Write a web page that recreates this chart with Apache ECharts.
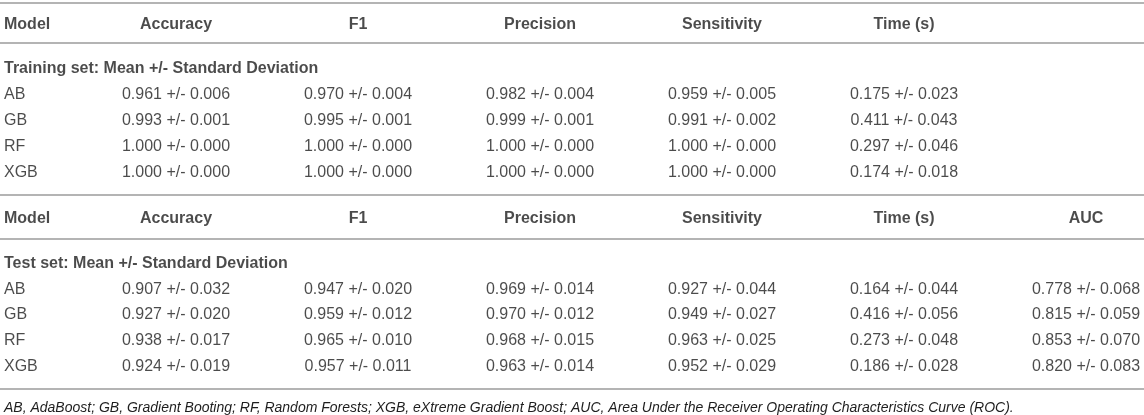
<!DOCTYPE html>
<html><head><meta charset="utf-8">
<script src="https://cdn.jsdelivr.net/npm/echarts@6/dist/echarts.min.js"></script>
<style>html,body{margin:0;padding:0;background:#fff}#c{width:1144px;height:415px}</style>
</head><body><div id="c"></div><script>
// ---- data ----
const modelHeader = 'Model';
const headers = ['Accuracy', 'F1', 'Precision', 'Sensitivity', 'Time (s)', 'AUC'];
const models = ['AB', 'GB', 'RF', 'XGB'];
const trainLabel = 'Training set: Mean +/- Standard Deviation';
const testLabel = 'Test set: Mean +/- Standard Deviation';
const footnote = 'AB, AdaBoost; GB, Gradient Booting; RF, Random Forests; XGB, eXtreme Gradient Boost; AUC, Area Under the Receiver Operating Characteristics Curve (ROC).';

// [mean, sd] per model (AB, GB, RF, XGB)
const trainAccuracy = [[0.961, 0.006], [0.993, 0.001], [1.000, 0.000], [1.000, 0.000]];
const trainF1 = [[0.970, 0.004], [0.995, 0.001], [1.000, 0.000], [1.000, 0.000]];
const trainPrecision = [[0.982, 0.004], [0.999, 0.001], [1.000, 0.000], [1.000, 0.000]];
const trainSensitivity = [[0.959, 0.005], [0.991, 0.002], [1.000, 0.000], [1.000, 0.000]];
const trainTime = [[0.175, 0.023], [0.411, 0.043], [0.297, 0.046], [0.174, 0.018]];

const testAccuracy = [[0.907, 0.032], [0.927, 0.020], [0.938, 0.017], [0.924, 0.019]];
const testF1 = [[0.947, 0.020], [0.959, 0.012], [0.965, 0.010], [0.957, 0.011]];
const testPrecision = [[0.969, 0.014], [0.970, 0.012], [0.968, 0.015], [0.963, 0.014]];
const testSensitivity = [[0.927, 0.044], [0.949, 0.027], [0.963, 0.025], [0.952, 0.029]];
const testTime = [[0.164, 0.044], [0.416, 0.056], [0.273, 0.048], [0.186, 0.028]];
const testAUC = [[0.778, 0.068], [0.815, 0.059], [0.853, 0.070], [0.820, 0.083]];

const trainCols = [trainAccuracy, trainF1, trainPrecision, trainSensitivity, trainTime];
const testCols = [testAccuracy, testF1, testPrecision, testSensitivity, testTime, testAUC];

// ---- layout / style ----
const W = 1144, colW = 182, firstCol = 176;
const FONT = '"Liberation Sans", Arial, Helvetica, sans-serif';
const TXT = '#1e1e1e';
const RULE = { show: true, onZero: false, lineStyle: { color: '#b4b4b4', width: 2 } };
const fmt = p => p[0].toFixed(3) + ' +/- ' + p[1].toFixed(3);

function xAx(gridIndex, position, line, offset) {
  return {
    type: 'value', gridIndex, position, offset: offset || 0,
    min: -firstCol / colW, max: (W - firstCol) / colW,
    axisLine: line ? RULE : { show: false },
    axisTick: { show: false }, axisLabel: { show: false }, splitLine: { show: false }
  };
}
function yAx(gridIndex, cats) {
  return {
    type: 'category', gridIndex, data: cats, inverse: true,
    axisLine: { show: false }, axisTick: { show: false }, axisLabel: { show: false }, splitLine: { show: false }
  };
}
function txt(xi, yi, data, bold, leftAlign) {
  return {
    type: 'scatter', xAxisIndex: xi, yAxisIndex: yi, symbolSize: 0, silent: true, clip: false,
    data,
    label: {
      show: true, position: 'inside', formatter: '{b}',
      align: leftAlign ? 'left' : 'center', verticalAlign: 'middle',
      offset: leftAlign ? [10, 1.5] : [0, 1.5],
      fontFamily: FONT, fontSize: 16, fontWeight: bold ? 'bold' : 'normal', color: TXT
    }
  };
}

const trainRows = [trainLabel].concat(models);
const testRows = [testLabel].concat(models);

const series = [
  // header 1
  txt(0, 0, [{ name: modelHeader, value: [-1, 0] }], true, true),
  txt(0, 0, headers.slice(0, trainCols.length).map((h, i) => ({ name: h, value: [i, 0] })), true, false),
  // training block
  txt(2, 1, [{ name: trainLabel, value: [-1, 0] }], true, true),
  txt(2, 1, models.map((m, r) => ({ name: m, value: [-1, r + 1] })), false, true),
  txt(2, 1, trainCols.flatMap((col, c) => col.map((p, r) => ({ name: fmt(p), value: [c, r + 1] }))), false, false),
  // header 2
  txt(3, 2, [{ name: modelHeader, value: [-1, 0] }], true, true),
  txt(3, 2, headers.map((h, i) => ({ name: h, value: [i, 0] })), true, false),
  // test block
  txt(5, 3, [{ name: testLabel, value: [-1, 0] }], true, true),
  txt(5, 3, models.map((m, r) => ({ name: m, value: [-1, r + 1] })), false, true),
  txt(5, 3, testCols.flatMap((col, c) => col.map((p, r) => ({ name: fmt(p), value: [c, r + 1] }))), false, false)
];

const chart = echarts.init(document.getElementById('c'), null, { renderer: 'canvas' });
chart.setOption({
  animation: false,
  backgroundColor: '#fff',
  title: {
    text: footnote, left: 4, top: 401, padding: 0,
    textStyle: { fontFamily: FONT, fontSize: 14, fontStyle: 'italic', fontWeight: 'normal', color: TXT }
  },
  grid: [
    { left: 0, right: 0, top: 3, height: 40 },
    { left: 0, right: 0, top: 54, height: 130 },
    { left: 0, right: 0, top: 195, height: 44 },
    { left: 0, right: 0, top: 249, height: 129 }
  ],
  xAxis: [
    xAx(0, 'top', true),
    xAx(0, 'bottom', true),
    xAx(1, 'bottom', false),
    xAx(2, 'top', true),
    xAx(2, 'bottom', true),
    xAx(3, 'bottom', true, 11)
  ],
  yAxis: [
    yAx(0, ['header']),
    yAx(1, trainRows),
    yAx(2, ['header']),
    yAx(3, testRows)
  ],
  series
});
</script></body></html>
